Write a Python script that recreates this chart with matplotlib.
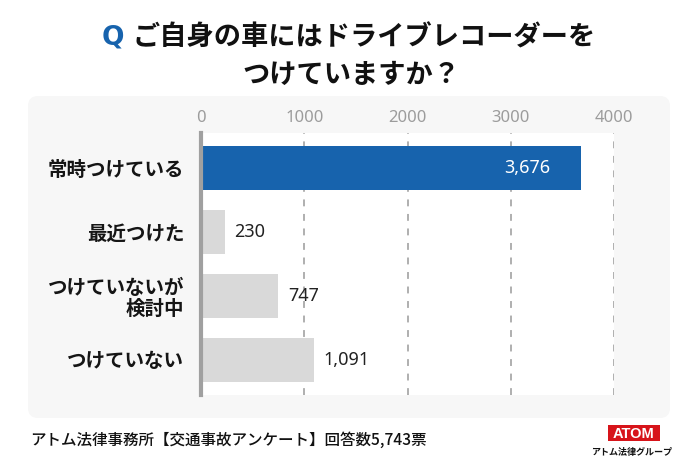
import matplotlib
matplotlib.use("Agg")
import matplotlib.pyplot as plt
from matplotlib.patches import FancyBboxPatch, Rectangle

categories = ["常時つけている", "最近つけた", "つけていないが\n検討中", "つけていない"]
values = [3676, 230, 747, 1091]
value_labels = ["3,676", "230", "747", "1,091"]
xticks = [0, 1000, 2000, 3000, 4000]
title_q = "Q"
title_line1 = "ご自身の車にはドライブレコーダーを"
title_line2 = "つけていますか？"
footer = "アトム法律事務所【交通事故アンケート】回答数5,743票"
logo_main = "ATOM"
logo_sub = "アトム法律グループ"

JP = ["Noto Sans CJK JP", "DejaVu Sans"]
plt.rcParams["font.family"] = JP

W, H = 700, 467
fig = plt.figure(figsize=(7.0, 4.67), dpi=100)
fig.patch.set_facecolor("white")

def px(x, y):
    return x / W, 1 - y / H

# background panel
panel = FancyBboxPatch((0.30, 0.51), 6.38, 3.18,
                       boxstyle="round,pad=0.02,rounding_size=0.1",
                       transform=fig.dpi_scale_trans, facecolor="#f7f7f7",
                       edgecolor="none", zorder=-5)
fig.patches.append(panel)

ax = fig.add_axes([201 / W, 1 - 395 / H, 413 / W, 262 / H])
ax.set_zorder(2)
ax.set_facecolor("white")
ypos = list(range(len(categories)))
colors = ["#1763ad"] + ["#d9d9d9"] * (len(categories) - 1)
ax.barh(ypos, values, height=0.68, color=colors, zorder=2)
ax.set_xlim(0, 4000)
ax.set_ylim(3.55, -0.55)
ax.set_xticks(xticks)
ax.set_xticklabels([str(t) for t in xticks], family=["Noto Sans", "DejaVu Sans"],
                   fontsize=12, color="#9c9c9c")
ax.xaxis.tick_top()
ax.tick_params(axis="x", length=0, pad=5)
ax.set_yticks(ypos)
ax.set_yticklabels(categories, fontsize=14, fontweight="bold", color="#151515",
                   linespacing=1.15)
ax.tick_params(axis="y", length=0, pad=12)
for s in ["top", "right", "bottom"]:
    ax.spines[s].set_visible(False)
ax.spines["left"].set_color("#a0a0a0")
ax.spines["left"].set_linewidth(3.0)
ax.spines["left"].set_zorder(3)
for t in xticks[1:]:
    ax.axvline(t, color="#9a9a9a", lw=1.1, dashes=(4.5, 5), zorder=1)

for i, (v, lab) in enumerate(zip(values, value_labels)):
    if i == 0:
        ax.annotate(lab, (v, i), xytext=(-22, 0), textcoords="offset points",
                    ha="right", va="center", color="white", fontsize=13,
                    family=["Noto Sans", "DejaVu Sans"])
    else:
        ax.annotate(lab, (v, i), xytext=(7, 0), textcoords="offset points",
                    ha="left", va="center", color="#222222", fontsize=13,
                    family=["Noto Sans", "DejaVu Sans"])

# title
fig.text(*px(102, 38), title_q, color="#1763ad", fontsize=19, fontweight="bold",
         ha="left", va="center", family=["DejaVu Sans"])
fig.text(*px(133, 38), title_line1, color="#111111", fontsize=19.6,
         fontweight="bold", ha="left", va="center")
fig.text(*px(351, 75), title_line2, color="#111111", fontsize=19.6,
         fontweight="bold", ha="center", va="center")

# footer
fig.text(*px(30, 440), footer, fontsize=11.2, color="#111111", ha="left",
         va="center", fontweight="medium")

# logo
fig.patches.append(Rectangle((6.08, 0.26), 0.52, 0.16, transform=fig.dpi_scale_trans,
                             facecolor="#d7141a", edgecolor="none"))
fig.text(*px(634, 433.5), logo_main, color="white", fontsize=10.5,
         fontweight="bold", ha="center", va="center", family=["Liberation Sans"])
fig.text(*px(632, 452), logo_sub, color="#111111", fontsize=6.5,
         ha="center", va="center", fontweight="bold")

fig.savefig("out.png", dpi=100)
